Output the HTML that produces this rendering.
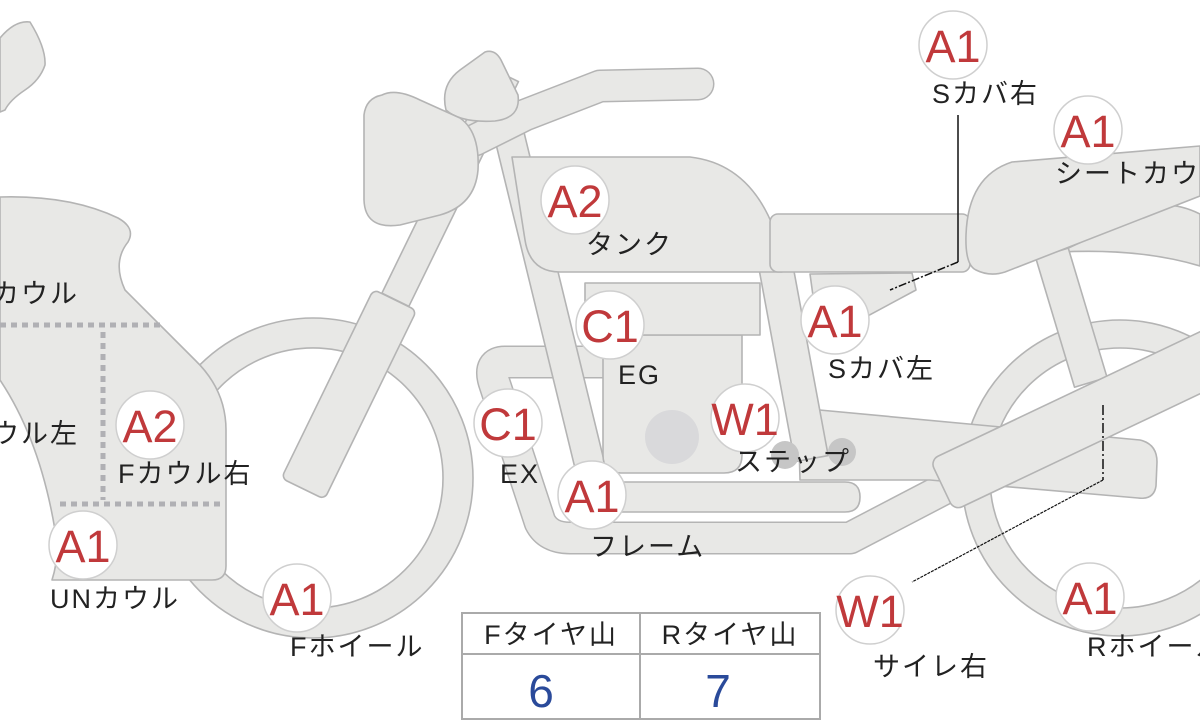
<!DOCTYPE html>
<html><head><meta charset="utf-8"><style>
html,body{margin:0;padding:0;background:#fff;}
svg{display:block;}
.p{fill:#e8e8e6;stroke:#b4b4b4;stroke-width:1.6;stroke-linejoin:round;}
.t{font-family:"Liberation Sans","Noto Sans CJK JP",sans-serif;font-size:27px;letter-spacing:2px;fill:#222;}
.b{font-family:"Liberation Sans","Noto Sans CJK JP",sans-serif;font-size:45px;fill:#c0393b;text-anchor:middle;}
.c{fill:#fff;stroke:#cfcfcf;stroke-width:1.5;}
</style></head><body>
<svg width="1200" height="720" viewBox="0 0 1200 720" xmlns="http://www.w3.org/2000/svg">
<path class="p" fill-rule="evenodd" d="M962,478 a158,158 0 1,0 316,0 a158,158 0 1,0 -316,0 Z M990,478 a130,130 0 1,0 260,0 a130,130 0 1,0 -260,0 Z"/>
<path class="p" d="M1060,252 Q1140,248 1200,266 L1200,214 Q1180,204 1160,205 Z"/>
<rect class="p" x="0" y="-17" width="135" height="34" transform="translate(1052,253) rotate(73.3)"/>
<path class="p" fill-rule="evenodd" d="M153,478 a160,160 0 1,0 320,0 a160,160 0 1,0 -320,0 Z M183,478 a130,130 0 1,0 260,0 a130,130 0 1,0 -260,0 Z"/>
<path d="M610,362 L505,362 Q488,362 494,382 L540,522 Q548,538 570,538 L850,538 L965,478" fill="none" stroke="#b4b4b4" stroke-width="33" stroke-linejoin="round"/>
<path d="M610,362 L505,362 Q488,362 494,382 L540,522 Q548,538 570,538 L850,538 L965,478" fill="none" stroke="#e8e8e6" stroke-width="30" stroke-linejoin="round"/>
<rect class="p" x="0" y="-15" width="360" height="30" transform="translate(508,130) rotate(76.3)"/>
<path class="p" d="M798,408 L1140,440 Q1157,444 1157,462 L1156,486 Q1154,500 1138,498 L930,480 L800,480 Z"/>
<rect class="p" x="0" y="-17" width="200" height="34" transform="translate(775,262) rotate(79.5)"/>
<path class="p" d="M590,482 L845,482 Q860,482 860,497 Q860,512 845,512 L590,512 Z"/>
<path class="p" d="M603,335 L742,335 L742,455 Q742,473 724,473 L621,473 Q603,473 603,455 Z"/>
<rect class="p" x="585" y="283" width="175" height="52"/>
<circle cx="672" cy="437" r="27" fill="#d9d9db"/>
<circle cx="785" cy="455" r="14" fill="#c6c6c6"/>
<circle cx="842" cy="452" r="14" fill="#c6c6c6"/>
<rect class="p" x="0" y="0" width="320" height="56" rx="9" transform="translate(930,460) rotate(-25.4)"/>
<rect class="p" x="0" y="-15" width="250" height="30" transform="translate(505,75) rotate(116)"/>
<rect class="p" x="0" y="-24" width="210" height="48" rx="6" transform="translate(395,300) rotate(116)"/>
<path d="M475,140 L525,115 L600,86 L698,84" fill="none" stroke="#b4b4b4" stroke-width="33" stroke-linecap="round" stroke-linejoin="round"/>
<path d="M475,140 L525,115 L600,86 L698,84" fill="none" stroke="#e8e8e6" stroke-width="30" stroke-linecap="round" stroke-linejoin="round"/>
<path class="p" d="M485,52 Q495,49 501,60 L518,95 Q521,118 495,121 Q460,123 446,110 Q440,85 460,70 Z"/>
<path class="p" d="M382,95 Q396,88 420,100 L460,118 Q480,132 478,170 Q475,205 440,215 L400,225 Q365,230 364,200 L364,115 Q366,98 382,95 Z"/>
<path class="p" d="M512,157 L690,157 Q760,165 782,255 L782,272 L560,272 Q530,272 525,240 Z"/>
<rect class="p" x="770" y="214" width="200" height="58" rx="8"/>
<path class="p" d="M810,274 L912,273 L916,290 L836,333 L818,332 Z"/>
<path class="p" d="M976,270 Q965,265 966,235 Q968,176 1012,162 L1200,146 L1200,196 L1005,272 Q990,277 976,270 Z"/>
<path class="p" d="M0,38 Q15,20 30,22 Q46,48 45,65 Q40,80 25,90 Q10,100 5,110 L0,112 Z"/>
<path class="p" d="M0,197 Q70,195 118,218 Q136,228 128,242 Q112,262 125,290 L195,360 Q226,390 226,430 L226,566 Q226,580 212,580 L52,580 Q60,555 55,530 Q40,440 0,380 Z"/>
<g stroke="#b0b0b4" stroke-width="5" stroke-dasharray="6,5" fill="none">
<line x1="0" y1="325" x2="165" y2="325"/>
<line x1="103" y1="332" x2="103" y2="500"/>
<line x1="60" y1="504" x2="225" y2="504"/>
</g>
<polyline points="958,115 958,262" fill="none" stroke="#111" stroke-width="1.5"/>
<line x1="958" y1="262" x2="890" y2="290" stroke="#111" stroke-width="1.5" stroke-dasharray="8,2,2,2"/>
<line x1="1103" y1="405" x2="1103" y2="480" stroke="#111" stroke-width="1.5" stroke-dasharray="10,3,2,3"/>
<line x1="1103" y1="480" x2="912" y2="582" stroke="#111" stroke-width="1.2" stroke-dasharray="3,1"/>
<g>
<circle class="c" cx="953" cy="45" r="34"/><text class="b" x="953" y="62">A1</text>
<circle class="c" cx="1088" cy="130" r="34"/><text class="b" x="1088" y="147">A1</text>
<circle class="c" cx="575" cy="200" r="34"/><text class="b" x="575" y="217">A2</text>
<circle class="c" cx="610" cy="325" r="34"/><text class="b" x="610" y="342">C1</text>
<circle class="c" cx="835" cy="320" r="34"/><text class="b" x="835" y="337">A1</text>
<circle class="c" cx="150" cy="425" r="34"/><text class="b" x="150" y="442">A2</text>
<circle class="c" cx="508" cy="423" r="34"/><text class="b" x="508" y="440">C1</text>
<circle class="c" cx="745" cy="418" r="34"/><text class="b" x="745" y="435">W1</text>
<circle class="c" cx="592" cy="495" r="34"/><text class="b" x="592" y="512">A1</text>
<circle class="c" cx="83" cy="545" r="34"/><text class="b" x="83" y="562">A1</text>
<circle class="c" cx="297" cy="598" r="34"/><text class="b" x="297" y="615">A1</text>
<circle class="c" cx="870" cy="610" r="34"/><text class="b" x="870" y="627">W1</text>
<circle class="c" cx="1090" cy="597" r="34"/><text class="b" x="1090" y="614">A1</text>
</g>
<text class="t" x="932" y="103">Sカバ右</text>
<text class="t" x="1055" y="183">シートカウル</text>
<text class="t" x="586" y="254">タンク</text>
<text class="t" x="-8" y="303">カウル</text>
<text class="t" x="618" y="384">EG</text>
<text class="t" x="828" y="378">Sカバ左</text>
<text class="t" x="-8" y="443">ウル左</text>
<text class="t" x="118" y="483">Fカウル右</text>
<text class="t" x="500" y="483">EX</text>
<text class="t" x="735" y="471">ステップ</text>
<text class="t" x="590" y="556">フレーム</text>
<text class="t" x="50" y="608">UNカウル</text>
<text class="t" x="290" y="656">Fホイール</text>
<text class="t" x="873" y="676">サイレ右</text>
<text class="t" x="1087" y="656">Rホイール</text>
<rect x="462" y="613" width="358" height="106" fill="#fff" stroke="#aaa" stroke-width="2"/>
<line x1="462" y1="654" x2="820" y2="654" stroke="#aaa" stroke-width="2"/>
<line x1="640" y1="613" x2="640" y2="720" stroke="#aaa" stroke-width="2"/>
<text class="t" x="551" y="644" text-anchor="middle">Fタイヤ山</text>
<text class="t" x="730" y="644" text-anchor="middle">Rタイヤ山</text>
<text x="541" y="707" text-anchor="middle" font-family="Liberation Sans,sans-serif" font-size="46" fill="#2a4a9a">6</text>
<text x="718" y="707" text-anchor="middle" font-family="Liberation Sans,sans-serif" font-size="46" fill="#2a4a9a">7</text>
</svg>
</body></html>
